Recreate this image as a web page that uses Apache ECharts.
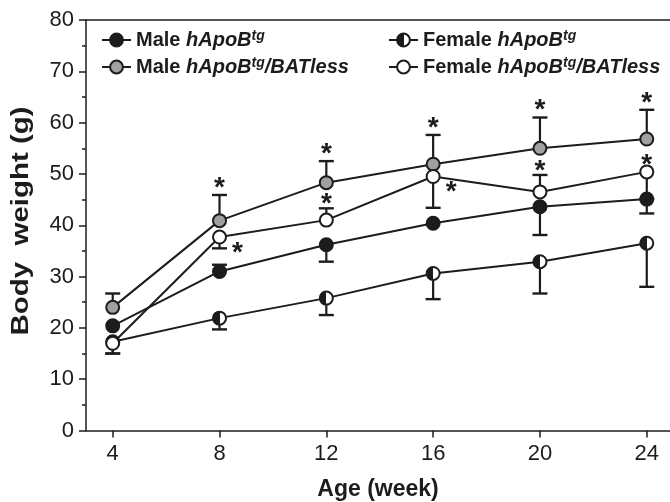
<!DOCTYPE html>
<html><head><meta charset="utf-8">
<script src="https://cdn.jsdelivr.net/npm/echarts@6/dist/echarts.min.js"></script>
<style>html,body{margin:0;padding:0;background:#fff}#c{width:670px;height:502px}</style>
</head><body><div id="c"></div>
<script>
// ---- data ----
const weeks = [4, 8, 12, 16, 20, 24];
const xTicks = [4, 8, 12, 16, 20, 24];
const maleTg = [20.4, 31.0, 36.2, 40.4, 43.6, 45.1];
const maleTgUp = [null, 32.3, null, null, null, null];
const maleTgLo = [null, null, 32.9, null, 38.1, 42.3];
const maleBAT = [24.0, 40.9, 48.3, 51.9, 55.0, 56.8];
const maleBATUp = [26.7, 45.9, 52.5, 57.6, 61.0, 62.5];
const femTg = [17.3, 21.9, 25.8, 30.6, 32.9, 36.5];
const femTgLo = [15.0, 19.7, 22.5, 25.6, 26.7, 28.0];
const femBAT = [17.0, 37.7, 41.0, 49.5, 46.5, 50.4];
const femBATUp = [null, null, 43.3, null, 49.8, null];
const femBATLo = [15.0, 35.5, null, 43.4, null, 45.1];
const maleBATSig = [0, 1, 1, 1, 1, 1];
const femBATSig = [0, 1, 1, 1, 1, 1];

const INK = '#1c1c1c';
const GRAY = '#a0a0a0';
const FONT = '"Liberation Sans", Arial, sans-serif';
const femStarPlace = ['', 'side', 'cap', 'side', 'cap', 'point'];

function bars(means, ends) {
  const out = [];
  weeks.forEach((w, i) => { if (ends[i] != null) out.push([w, means[i], ends[i]]); });
  return out;
}
const barData = [].concat(
  bars(maleBAT, maleBATUp), bars(maleTg, maleTgUp), bars(maleTg, maleTgLo),
  bars(femTg, femTgLo), bars(femBAT, femBATUp), bars(femBAT, femBATLo));

// star data: [x, anchorValue, kind]  kind: 0 above cap (gray), 1 above cap, 2 side, 3 above point
const starData = [];
weeks.forEach((w, i) => {
  if (maleBATSig[i]) starData.push([w, maleBATUp[i], 0]);
  if (femBATSig[i]) {
    const pl = femStarPlace[i];
    if (pl === 'cap') starData.push([w, femBATUp[i], 1]);
    else if (pl === 'side') starData.push([w, femBAT[i], 2]);
    else starData.push([w, femBAT[i], 3]);
  }
});

function renderBar(params, api) {
  const p0 = api.coord([api.value(0), api.value(1)]);
  const p1 = api.coord([api.value(0), api.value(2)]);
  const hw = 7.5;
  return { type: 'group', children: [
    { type: 'line', shape: { x1: p0[0], y1: p0[1], x2: p1[0], y2: p1[1] }, style: { stroke: INK, lineWidth: 2.2 } },
    { type: 'line', shape: { x1: p1[0] - hw, y1: p1[1], x2: p1[0] + hw, y2: p1[1] }, style: { stroke: INK, lineWidth: 2.4 } }
  ]};
}
function renderStar(params, api) {
  const p = api.coord([api.value(0), api.value(1)]);
  const k = api.value(2);
  let x = p[0], y = p[1];
  if (k === 0) y = y - 7;
  else if (k === 1) y = y - 4;
  else if (k === 2) { x = x + 18; y = y + 16; }
  else y = y - 7;
  return { type: 'text', x: x, y: y, style: { text: '*', fontFamily: FONT, fontWeight: 'bold', fontSize: 28, fill: INK, align: 'center', verticalAlign: 'middle' } };
}

const halfFill = { type: 'linear', x: 0, y: 0, x2: 1, y2: 0, colorStops: [
  { offset: 0, color: INK }, { offset: 0.5, color: INK }, { offset: 0.5, color: '#fff' }, { offset: 1, color: '#fff' }] };

const labels = {
  'Male hApoB': '{a|Male }{b|hApoB}{s|tg}',
  'Male hApoB/BATless': '{a|Male }{b|hApoB}{s|tg}{b|/BATless}',
  'Female hApoB': '{a|Female }{b|hApoB}{s|tg}',
  'Female hApoB/BATless': '{a|Female }{b|hApoB}{s|tg}{b|/BATless}'
};
const rich = {
  a: { fontFamily: FONT, fontWeight: 'bold', fontSize: 20, color: INK, lineHeight: 22 },
  b: { fontFamily: FONT, fontWeight: 'bold', fontStyle: 'italic', fontSize: 20, color: INK, lineHeight: 22 },
  s: { fontFamily: FONT, fontWeight: 'bold', fontStyle: 'italic', fontSize: 14, color: INK, lineHeight: 13, verticalAlign: 'top' }
};
function legendCfg(left, names) {
  return { left: left, top: 24, orient: 'vertical', itemWidth: 29, itemHeight: 16, itemGap: 6,
    data: names, selectedMode: false, formatter: n => labels[n], textStyle: { rich: rich } };
}
function lineSeries(name, vals, fill) {
  return { name: name, type: 'line', data: weeks.map((w, i) => [w, vals[i]]), symbol: 'circle', symbolSize: 13,
    lineStyle: { color: INK, width: 2 }, itemStyle: { color: fill, borderColor: INK, borderWidth: 2 }, z: 3 };
}

const chart = echarts.init(document.getElementById('c'));
chart.setOption({
  animation: false,
  backgroundColor: '#fff',
  grid: { left: 86, top: 20, right: 0, bottom: 71.5, containLabel: false, outerBoundsMode: 'none' },
  legend: [legendCfg(96, ['Male hApoB', 'Male hApoB/BATless']), legendCfg(383, ['Female hApoB', 'Female hApoB/BATless'])],
  graphic: [{
    type: 'text', x: 22, y: 221, rotation: Math.PI / 2, scaleX: 1.28,
    style: { text: 'Body  weight (g)', fontFamily: FONT, fontWeight: 'bold', fontSize: 23, fill: INK, align: 'center', verticalAlign: 'middle' }
  }],
  xAxis: [{
    type: 'value', min: 3, max: 24.87,
    name: 'Age (week)', nameLocation: 'middle', nameGap: 48,
    nameTextStyle: { fontFamily: FONT, fontWeight: 'bold', fontSize: 23, color: INK },
    axisLine: { lineStyle: { color: INK, width: 1.5 } },
    axisTick: { show: true, length: 7, customValues: xTicks, lineStyle: { color: INK, width: 1.5 } },
    axisLabel: { customValues: xTicks, margin: 12, fontFamily: FONT, fontSize: 22, color: INK },
    splitLine: { show: false }
  }, {
    type: 'value', position: 'top', min: 3, max: 24.87,
    axisLine: { show: true, lineStyle: { color: INK, width: 1.5 } },
    axisTick: { show: false }, axisLabel: { show: false }, splitLine: { show: false }
  }],
  yAxis: {
    type: 'value', min: 0, max: 80, interval: 10,
    axisLine: { show: true, lineStyle: { color: INK, width: 1.5 } },
    axisTick: { show: true, length: 7, lineStyle: { color: INK, width: 1.5 } },
    minorTick: { show: true, splitNumber: 2, length: 4, lineStyle: { color: INK, width: 1.5 } },
    axisLabel: { margin: 12, fontFamily: FONT, fontSize: 22, color: INK },
    splitLine: { show: false }
  },
  series: [
    { type: 'custom', name: 'errorbars', data: barData, renderItem: renderBar, z: 1, silent: true },
    lineSeries('Male hApoB/BATless', maleBAT, GRAY),
    lineSeries('Male hApoB', maleTg, INK),
    lineSeries('Female hApoB', femTg, halfFill),
    lineSeries('Female hApoB/BATless', femBAT, '#fff'),
    { type: 'custom', name: 'sig', data: starData, renderItem: renderStar, z: 4, silent: true }
  ]
});
</script></body></html>
